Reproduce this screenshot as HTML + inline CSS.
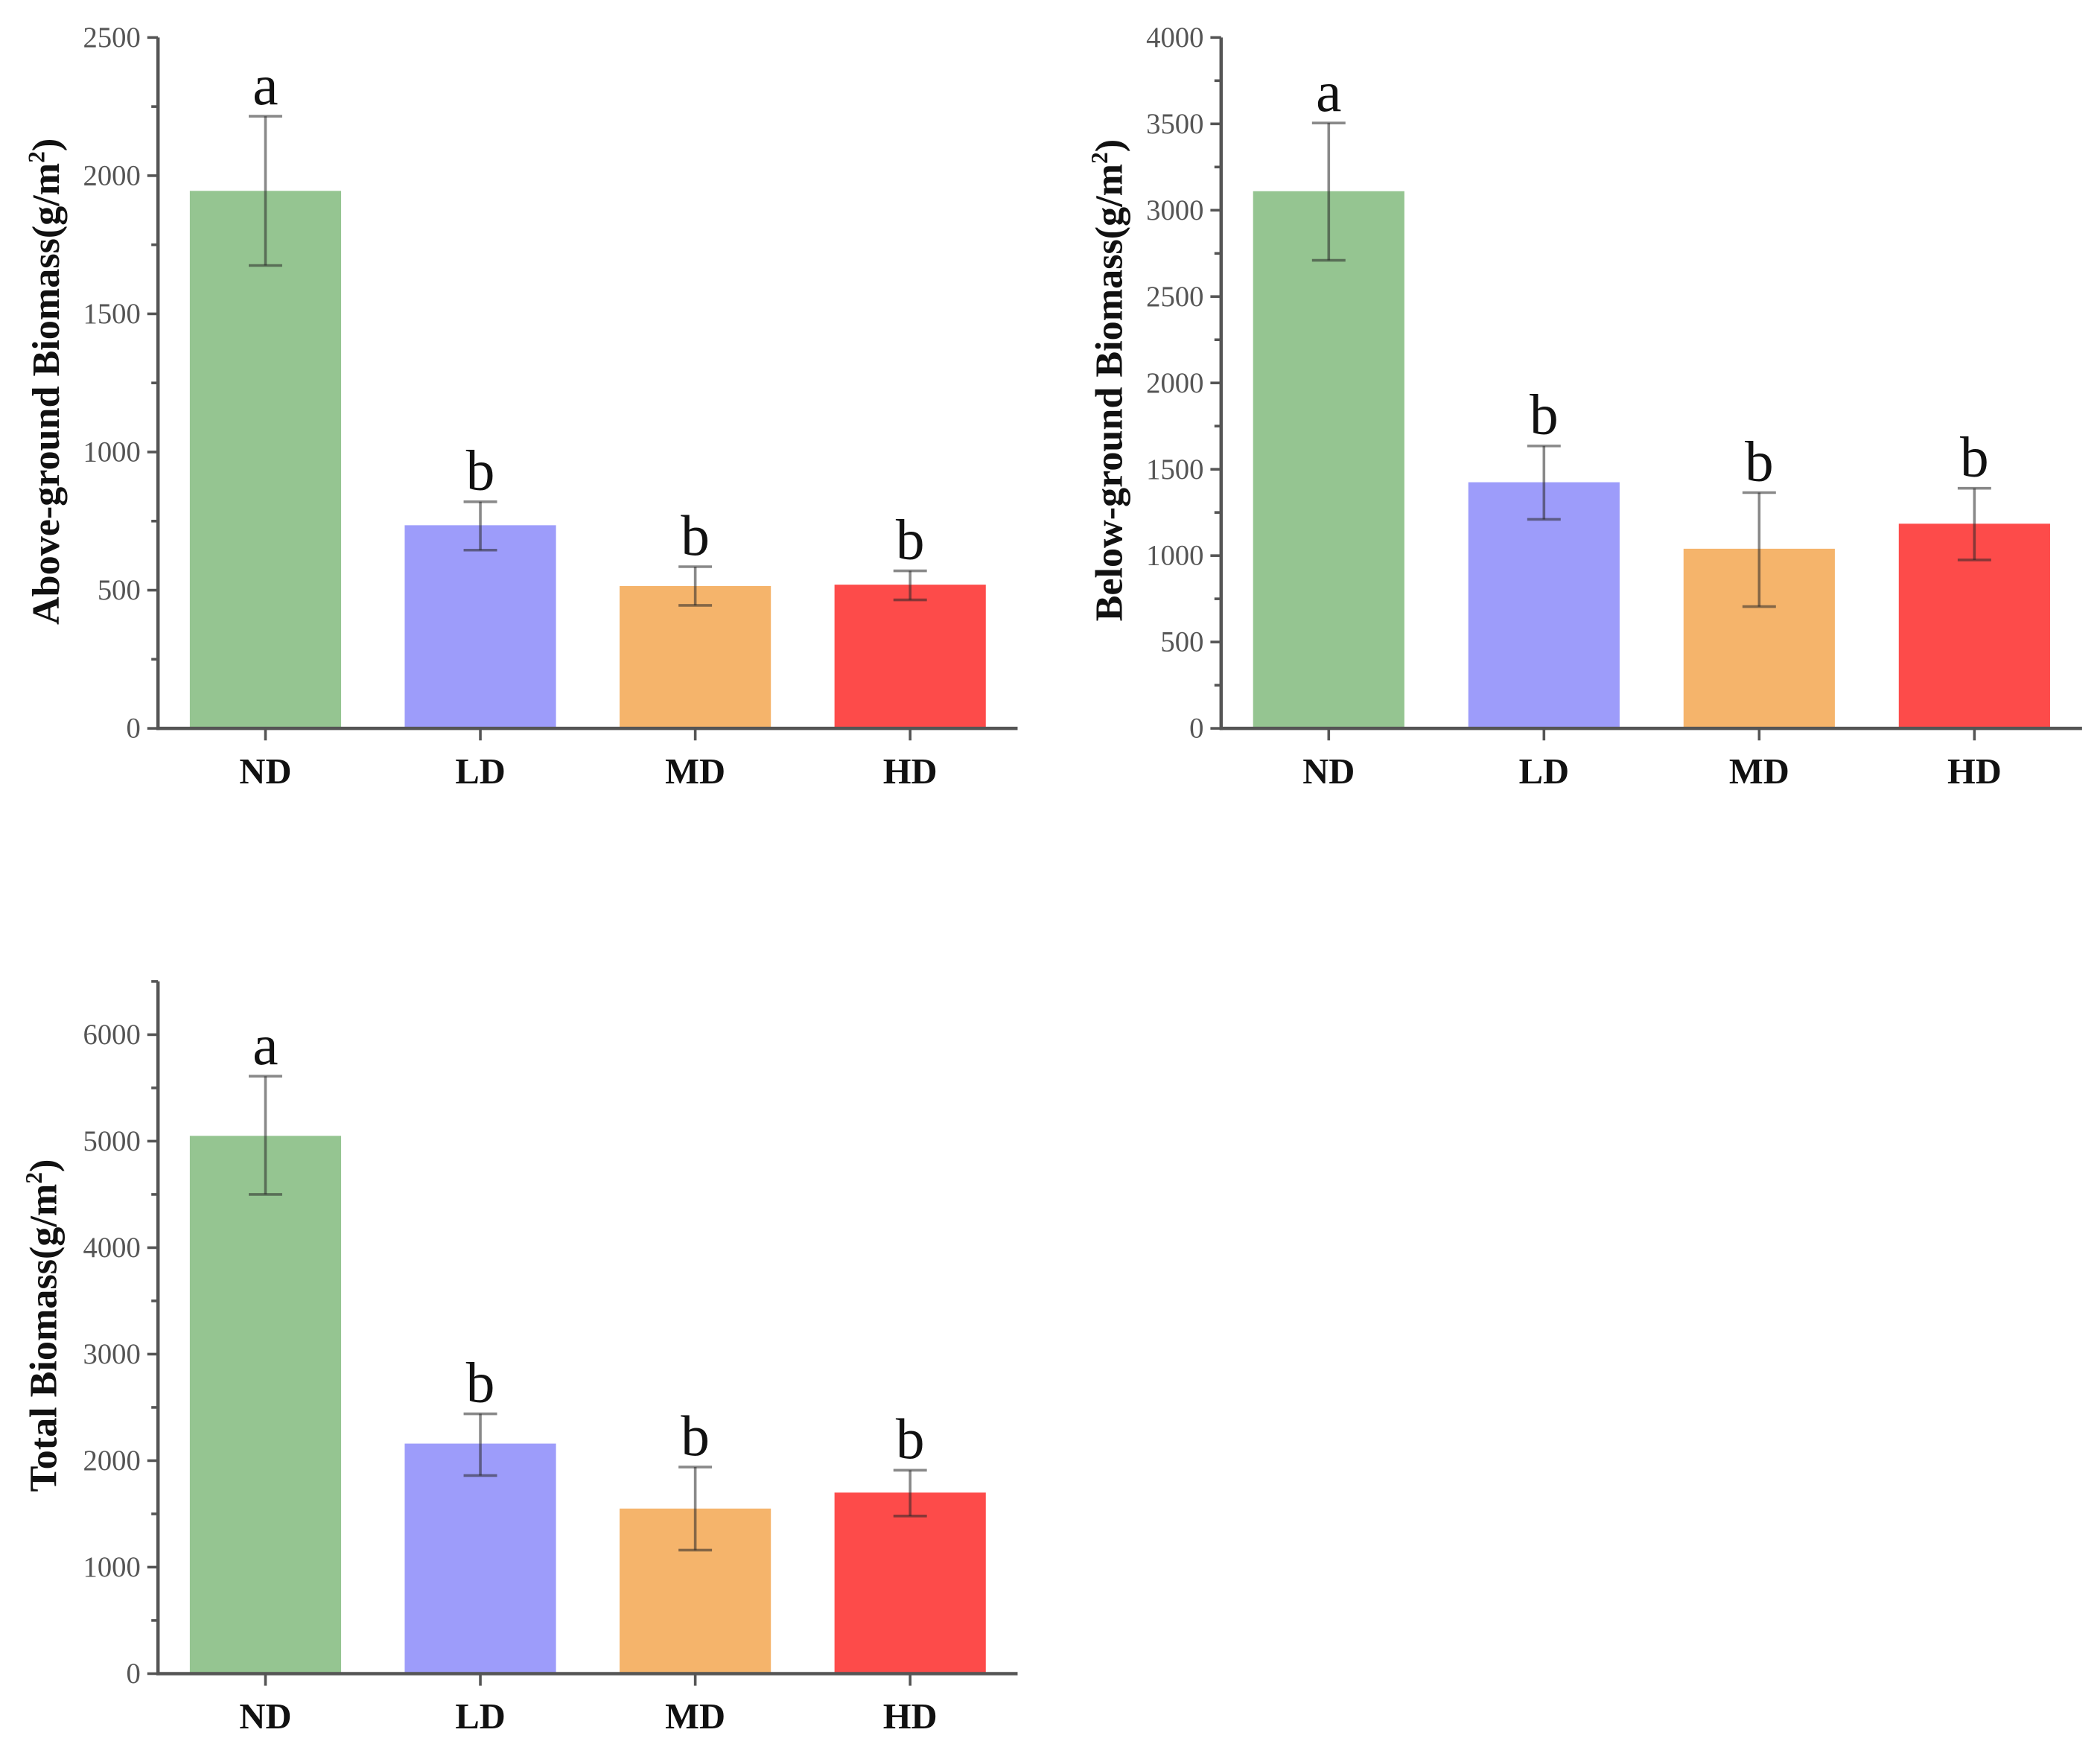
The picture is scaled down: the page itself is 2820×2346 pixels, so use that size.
<!DOCTYPE html>
<html><head><meta charset="utf-8"><style>
html,body{margin:0;padding:0;background:#fff;}
svg{display:block;}
text{font-family:"Liberation Serif",serif;}
</style></head><body>
<svg id="fig" width="2820" height="2346" viewBox="0 0 1568.4 1304.8" xmlns="http://www.w3.org/2000/svg"></svg>
<script>
const categories = ["ND","LD","MD","HD"];
const colors = ["#95c591","#9d9cfa","#f5b46b","#fd4b4a"];
const aboveValues = [1945,735,515,520];
const aboveErrLow = [1675,645,445,465];
const aboveErrHigh = [2215,820,585,570];
const aboveLetters = ["a","b","b","b"];
const aboveTicks = [0,500,1000,1500,2000,2500];
const belowValues = [3110,1425,1040,1185];
const belowErrLow = [2710,1210,705,975];
const belowErrHigh = [3505,1635,1365,1390];
const belowLetters = ["a","b","b","b"];
const belowTicks = [0,500,1000,1500,2000,2500,3000,3500,4000];
const totalValues = [5050,2160,1550,1700];
const totalErrLow = [4500,1860,1160,1480];
const totalErrHigh = [5610,2440,1940,1910];
const totalLetters = ["a","b","b","b"];
const totalTicks = [0,1000,2000,3000,4000,5000,6000];

const NS="http://www.w3.org/2000/svg";
const svg=document.getElementById('fig');
function mk(tag,attrs,parent){const e=document.createElementNS(NS,tag);for(const k in attrs)e.setAttribute(k,attrs[k]);(parent||svg).appendChild(e);return e;}

function chart(cfg){
  const g=mk('g',{});
  
  
  const x0=cfg.x0,x1=cfg.x1,y0=cfg.y0,yTop=cfg.yTop,vmax=cfg.vmax;
  const y=v=>y0-(v/vmax)*(y0-yTop);
  const band=(x1-x0)/4;
  const cx=i=>x0+band*(i+0.5);
  const bw=113;
  for(let i=0;i<categories.length;i++){
    const r=mk('rect',{x:cx(i)-bw/2,y:y(cfg.values[i]),width:bw,height:y0-y(cfg.values[i]),fill:colors[i]},g);
    
    
  }
  for(let i=0;i<categories.length;i++){
    const eg=mk('g',{stroke:'rgba(40,40,40,0.55)','stroke-width':2},g);
    
    
    const c=cx(i),lo=y(cfg.lo[i]),hi=y(cfg.hi[i]);
    mk('line',{x1:c,x2:c,y1:lo,y2:hi},eg);
    mk('line',{x1:c-12.5,x2:c+12.5,y1:lo,y2:lo},eg);
    mk('line',{x1:c-12.5,x2:c+12.5,y1:hi,y2:hi},eg);
    const t=mk('text',{x:c,y:hi-9,'text-anchor':'middle','font-size':43,fill:'#111'},g);
    t.textContent=cfg.letters[i];
    
    
  }
  const ax=mk('g',{stroke:'#555','stroke-width':2.5,fill:'none'},g);
  
  
  mk('line',{x1:x0,x2:x0,y1:yTop,y2:y0+1.2},ax);
  mk('line',{x1:x0-1.2,x2:x1,y1:y0,y2:y0},ax);
  const step=cfg.ticks[1]-cfg.ticks[0];
  for(let v=0;v<=vmax+1e-6;v+=step/2){
    const major=Math.abs(v/step-Math.round(v/step))<1e-6;
    mk('line',{x1:x0-(major?8:5),x2:x0,y1:y(v),y2:y(v),'stroke-width':2},ax);
  }
  for(const v of cfg.ticks){
    const t=mk('text',{x:x0-13,y:y(v)+7,'text-anchor':'end','font-size':21.5,fill:'#555'},g);
    t.textContent=v;
    
    
  }
  for(let i=0;i<categories.length;i++){
    mk('line',{x1:cx(i),x2:cx(i),y1:y0,y2:y0+9,'stroke-width':2},ax);
    const t=mk('text',{x:cx(i),y:y0+41,'text-anchor':'middle','font-size':27,'font-weight':'bold',fill:'#111'},g);
    t.textContent=categories[i];
    
    
  }
  const tt=mk('text',{transform:`translate(${cfg.tx},${cfg.ty}) rotate(-90)`,'text-anchor':'middle','font-size':cfg.tfs,'font-weight':'bold',fill:'#111'},g);
  
  
  tt.appendChild(document.createTextNode(cfg.title+'(g/m'));
  const sup=mk('tspan',{'font-size':cfg.tfs*0.6,dy:-11},tt);sup.textContent='2';
  const cl=mk('tspan',{dy:11},tt);cl.textContent=')';
}
chart({name:'above-ground-chart',x0:118,x1:760,y0:544,yTop:28,vmax:2500,ticks:aboveTicks,values:aboveValues,lo:aboveErrLow,hi:aboveErrHigh,letters:aboveLetters,title:'Above-ground Biomass',tx:44,ty:285,tfs:29});
chart({name:'below-ground-chart',x0:912,x1:1555,y0:544,yTop:28,vmax:4000,ticks:belowTicks,values:belowValues,lo:belowErrLow,hi:belowErrHigh,letters:belowLetters,title:'Below-ground Biomass',tx:838,ty:284,tfs:29});
chart({name:'total-chart',x0:118,x1:760,y0:1250,yTop:733,vmax:6500,ticks:totalTicks,values:totalValues,lo:totalErrLow,hi:totalErrHigh,letters:totalLetters,title:'Total Biomass',tx:42,ty:990,tfs:29});
</script>
</body></html>
